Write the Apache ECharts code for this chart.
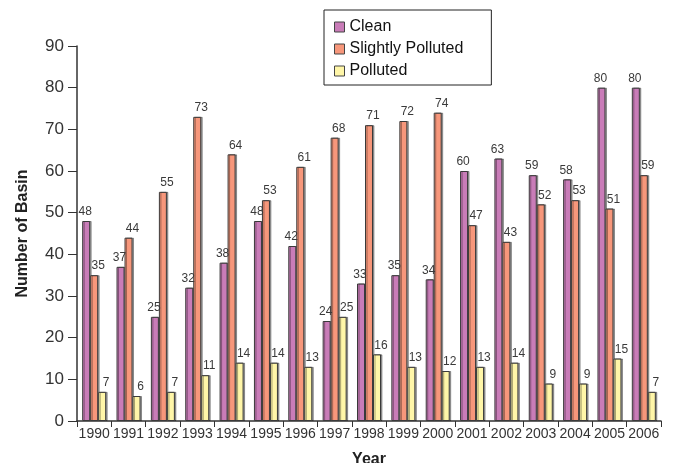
<!DOCTYPE html>
<html>
<head>
<meta charset="utf-8">
<script src="https://cdn.jsdelivr.net/npm/echarts@6/dist/echarts.min.js"></script>
<style>
  html, body { margin: 0; padding: 0; background: #fff; }
  #chart { width: 674px; height: 463px; }
</style>
</head>
<body>
<div id="chart"></div>
<script>
// Basin water quality counts by year
const years = ['1990','1991','1992','1993','1994','1995','1996','1997','1998','1999','2000','2001','2002','2003','2004','2005','2006'];
const clean = [48, 37, 25, 32, 38, 48, 42, 24, 33, 35, 34, 60, 63, 59, 58, 80, 80];
const slightlyPolluted = [35, 44, 55, 73, 64, 53, 61, 68, 71, 72, 74, 47, 43, 52, 53, 51, 59];
const polluted = [7, 6, 7, 11, 14, 14, 13, 25, 16, 13, 12, 13, 14, 9, 9, 15, 7];
const yTicks = [0, 10, 20, 30, 40, 50, 60, 70, 80, 90];

const FONT = '"Liberation Sans", Arial, sans-serif';
const AXIS = '#333';

function barSeries(name, data, color, dx) {
  return {
    name: name,
    type: 'bar',
    data: data,
    barWidth: 8,
    barGap: '0%',
    itemStyle: {
      color: color,
      borderColor: '#3a3a3a',
      borderWidth: 1,
      shadowColor: 'rgba(0,0,0,0.35)',
      shadowOffsetX: 1.5,
      shadowOffsetY: 0,
      shadowBlur: 0
    },
    label: {
      show: true,
      position: 'top',
      distance: 3,
      offset: [dx, 0],
      color: '#3a3a3a',
      fontFamily: FONT,
      fontSize: 12
    }
  };
}

const chart = echarts.init(document.getElementById('chart'), null, { renderer: 'canvas' });
chart.setOption({
  animation: false,
  backgroundColor: '#fff',
  grid: { left: 77, right: 13, top: 46, bottom: 42, containLabel: false, outerBoundsMode: 'none' },
  legend: {
    orient: 'vertical',
    left: 324,
    top: 10,
    padding: [9, 28, 6, 10],
    itemWidth: 10,
    itemHeight: 10,
    itemGap: 6,
    borderColor: '#222',
    borderWidth: 1,
    backgroundColor: '#fff',
    icon: 'rect',
    textStyle: { fontFamily: FONT, fontSize: 16, color: '#111', padding: [0, 0, 0, 0] },
    data: [
      { name: 'Clean', itemStyle: { borderColor: '#444', borderWidth: 1 } },
      { name: 'Slightly Polluted', itemStyle: { borderColor: '#444', borderWidth: 1 } },
      { name: 'Polluted', itemStyle: { borderColor: '#444', borderWidth: 1 } }
    ]
  },
  xAxis: {
    type: 'category',
    data: years,
    name: 'Year',
    nameLocation: 'middle',
    nameGap: 31,
    nameTextStyle: { fontFamily: FONT, fontSize: 16, fontWeight: 'bold', color: '#222' },
    axisLine: { lineStyle: { color: AXIS, width: 1.5 } },
    axisTick: { show: true, alignWithLabel: false, length: 6, lineStyle: { color: AXIS } },
    axisLabel: { fontFamily: FONT, fontSize: 14, color: '#333', margin: 6, interval: 0 }
  },
  yAxis: {
    type: 'value',
    min: yTicks[0],
    max: yTicks[yTicks.length - 1],
    interval: 10,
    name: 'Number of Basin',
    nameLocation: 'middle',
    nameGap: 46,
    nameTextStyle: { fontFamily: FONT, fontSize: 16, fontWeight: 'bold', color: '#222' },
    axisLine: { show: true, lineStyle: { color: AXIS, width: 1.5 } },
    axisTick: { show: true, length: 9, lineStyle: { color: AXIS } },
    axisLabel: { fontFamily: FONT, fontSize: 17, color: '#333', margin: 13 },
    splitLine: { show: false }
  },
  series: [
    barSeries('Clean', clean, '#c97cb8', -1),
    barSeries('Slightly Polluted', slightlyPolluted, '#f7977b', 4),
    barSeries('Polluted', polluted, '#fff6a8', 4)
  ]
});
</script>
</body>
</html>
